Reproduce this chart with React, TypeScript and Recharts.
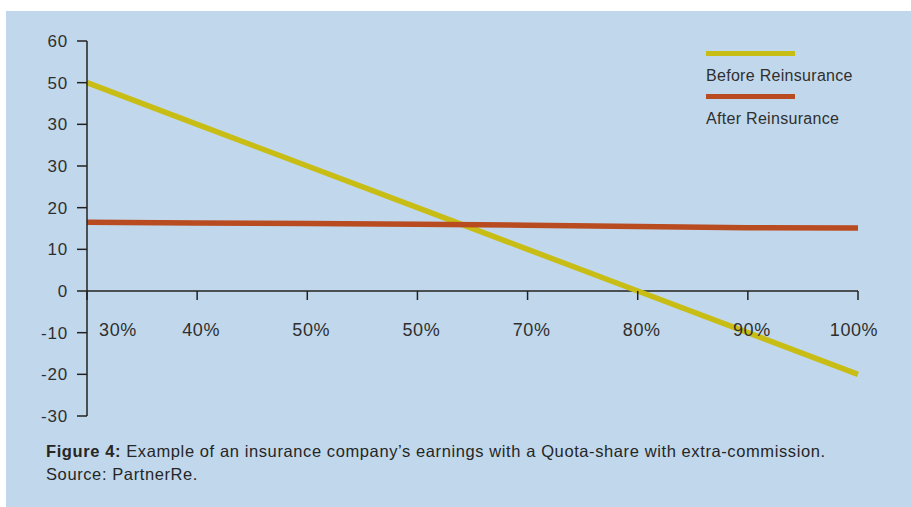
import { LineChart, Line, XAxis, YAxis, ReferenceLine } from 'recharts'

// share of ceded business (x) and earnings (y)
const rates = [30, 40, 50, 60, 70, 80, 90, 100]
const rateLabels = ['30%', '40%', '50%', '50%', '70%', '80%', '90%', '100%']
const beforeReinsurance = [50, 40, 30, 20, 10, 0, -10, -20]
const afterReinsurance = [16.5, 16.3, 16.2, 16.0, 15.8, 15.5, 15.2, 15.1]
const yTicks = [60, 50, 40, 30, 20, 10, 0, -10, -20, -30]
const yLabels = ['60', '50', '30', '30', '20', '10', '0', '-10', '-20', '-30']

const data = rates.map((rate, i) => ({
  rate,
  before: beforeReinsurance[i],
  after: afterReinsurance[i],
}))

const BG = '#c1d8ec'
const YELLOW = '#c8bd14'
const RED = '#b94b20'
const INK = '#2f2f2f'
const FONT = '"Liberation Sans", Arial, Helvetica, sans-serif'

const Y_MIN = -30
const Y_MAX = 60
const CHART_W = 905
const CHART_H = 420
const MARGIN = { top: 30, right: 53, bottom: 0, left: 0 }
const X_AXIS_H = 15
const PLOT_H = CHART_H - MARGIN.top - MARGIN.bottom - X_AXIS_H
const ZERO_FROM_BOTTOM = (PLOT_H * (0 - Y_MIN)) / (Y_MAX - Y_MIN)

const SERIES = [
  { key: 'before', name: 'Before Reinsurance', color: YELLOW },
  { key: 'after', name: 'After Reinsurance', color: RED },
]

function RateTick(props: any) {
  const { x, y, index } = props
  const zeroY = y - ZERO_FROM_BOTTOM
  // first label sits clear of the y axis, last one pulled in a bit
  const dx = index === 0 ? 31 : index === rates.length - 1 ? -4 : 4
  return (
    <g>
      <line x1={x} x2={x} y1={zeroY} y2={zeroY + 9} stroke="#222" strokeWidth={1.5} />
      <text
        x={x + dx}
        y={zeroY + 45}
        textAnchor="middle"
        fontSize={18}
        letterSpacing={0.6}
        fill={INK}
        fontFamily={FONT}
      >
        {rateLabels[index]}
      </text>
    </g>
  )
}

function LegendBox() {
  return (
    <div
      style={{
        position: 'absolute',
        left: 700,
        top: 39.5,
        fontFamily: FONT,
        fontSize: 16,
        color: INK,
        letterSpacing: 0.3,
      }}
    >
      {SERIES.map((s) => (
        <div key={s.key} style={{ marginBottom: 9 }}>
          <div style={{ width: 89, height: 5, background: s.color, marginBottom: 11 }} />
          <div style={{ lineHeight: '18px', whiteSpace: 'nowrap' }}>{s.name}</div>
        </div>
      ))}
    </div>
  )
}

export default function App() {
  return (
    <div
      style={{
        position: 'absolute',
        left: 6,
        top: 11,
        width: 905,
        height: 496,
        background: BG,
      }}
    >
      <LineChart width={CHART_W} height={CHART_H} data={data} margin={MARGIN}>
        <XAxis
          dataKey="rate"
          type="number"
          domain={[30, 100]}
          ticks={rates}
          height={X_AXIS_H}
          axisLine={false}
          tickLine={false}
          tickSize={0}
          tickMargin={0}
          tick={<RateTick />}
          interval={0}
        />
        <YAxis
          domain={[Y_MIN, Y_MAX]}
          ticks={yTicks}
          width={81}
          interval={0}
          axisLine={{ stroke: '#222', strokeWidth: 1.5 }}
          tickLine={{ stroke: '#222', strokeWidth: 1.5 }}
          tickSize={10}
          tickMargin={9}
          tick={{ fontSize: 17, fill: INK, fontFamily: FONT, letterSpacing: 0.8 }}
          tickFormatter={(v: number) => yLabels[yTicks.indexOf(v)]}
        />
        <ReferenceLine y={0} stroke="#222" strokeWidth={1.5} />
        {SERIES.map((s) => (
          <Line
            key={s.key}
            type="linear"
            dataKey={s.key}
            name={s.name}
            stroke={s.color}
            strokeWidth={5.5}
            dot={false}
            activeDot={false}
            isAnimationActive={false}
          />
        ))}
      </LineChart>
      <LegendBox />
      <div
        style={{
          position: 'absolute',
          left: 40,
          top: 429,
          fontFamily: FONT,
          fontSize: 16.5,
          letterSpacing: 0.6,
          lineHeight: '23px',
          color: '#262626',
          whiteSpace: 'nowrap',
        }}
      >
        <div>
          <b>Figure 4:</b> Example of an insurance company’s earnings with a Quota-share with
          extra-commission.
        </div>
        <div>Source: PartnerRe.</div>
      </div>
    </div>
  )
}
